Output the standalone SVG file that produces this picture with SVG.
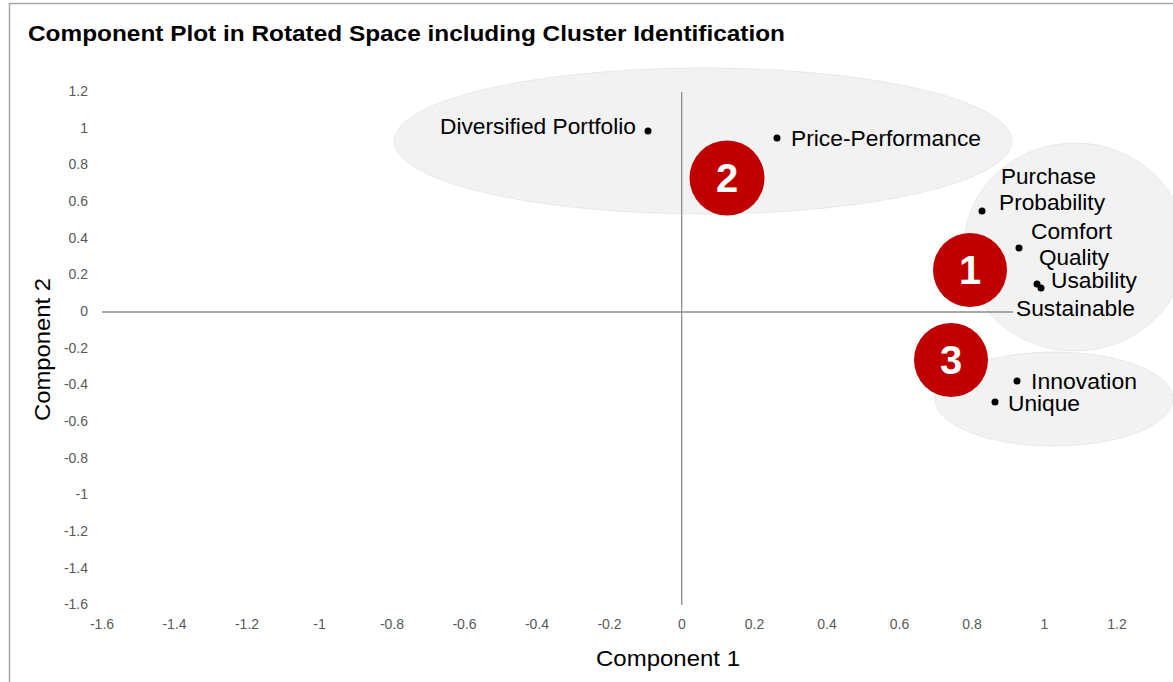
<svg xmlns="http://www.w3.org/2000/svg" width="1173" height="682" viewBox="0 0 1173 682">
<style>
.frame{fill:#ffffff;stroke:#a6a6a6;stroke-width:1.5}
.title{font-family:"Liberation Sans",Arial,sans-serif;font-weight:bold;font-size:22.5px;fill:#000}
.tick{font-family:"Liberation Sans",Arial,sans-serif;font-size:14px;fill:#595959}
.axt{font-family:"Liberation Sans",Arial,sans-serif;font-size:22.5px;fill:#000}
.lbl{font-family:"Liberation Sans",Arial,sans-serif;font-size:22.5px;fill:#000}
.axis{stroke:#8c8c8c;stroke-width:1.3;fill:none}
.cl{fill:#f2f2f2;stroke:#e4e4e4;stroke-width:0.8}
.badge{fill:#c00000}
.num{font-family:"Liberation Sans",Arial,sans-serif;font-weight:bold;font-size:40px;fill:#ffffff;text-anchor:middle}
.dot{fill:#000}
</style>
<rect x="0" y="0" width="1173" height="682" fill="#ffffff"/>
<rect class="frame" x="9.5" y="3.5" width="1200" height="700"/>
<text class="title" x="28" y="41" textLength="757" lengthAdjust="spacingAndGlyphs">Component Plot in Rotated Space including Cluster Identification</text>

<g id="clusters">
<ellipse id="cluster-2-area" class="cl" cx="703" cy="141" rx="309" ry="73"/>
<ellipse id="cluster-1-area" class="cl" cx="1075" cy="247" rx="111" ry="104"/>
<ellipse id="cluster-3-area" class="cl" cx="1054" cy="399" rx="119" ry="47"/>
</g>

<g id="axes">
<line class="axis" x1="102" y1="312" x2="1013" y2="312"/>
<line class="axis" x1="681.7" y1="92" x2="681.7" y2="605"/>
</g>

<g id="y-ticks" class="tick" text-anchor="end">
<text x="88" y="96">1.2</text>
<text x="88" y="133">1</text>
<text x="88" y="169">0.8</text>
<text x="88" y="206">0.6</text>
<text x="88" y="243">0.4</text>
<text x="88" y="279">0.2</text>
<text x="88" y="316">0</text>
<text x="88" y="353">-0.2</text>
<text x="88" y="389">-0.4</text>
<text x="88" y="426">-0.6</text>
<text x="88" y="463">-0.8</text>
<text x="88" y="499">-1</text>
<text x="88" y="536">-1.2</text>
<text x="88" y="573">-1.4</text>
<text x="88" y="609">-1.6</text>
</g>

<g id="x-ticks" class="tick" text-anchor="middle">
<text x="102" y="629">-1.6</text>
<text x="174.5" y="629">-1.4</text>
<text x="247" y="629">-1.2</text>
<text x="319.5" y="629">-1</text>
<text x="392" y="629">-0.8</text>
<text x="464.5" y="629">-0.6</text>
<text x="537" y="629">-0.4</text>
<text x="609.5" y="629">-0.2</text>
<text x="682" y="629">0</text>
<text x="754.5" y="629">0.2</text>
<text x="827" y="629">0.4</text>
<text x="899.5" y="629">0.6</text>
<text x="972" y="629">0.8</text>
<text x="1044.5" y="629">1</text>
<text x="1117" y="629">1.2</text>
</g>

<text class="axt" x="596" y="666" textLength="144" lengthAdjust="spacingAndGlyphs">Component 1</text>
<text class="axt" transform="translate(50 421) rotate(-90)" x="0" y="0" textLength="143" lengthAdjust="spacingAndGlyphs">Component 2</text>

<g id="points">
<g id="diversified-portfolio"><circle class="dot" cx="648" cy="131" r="3.5"/><text class="lbl" x="440" y="134" textLength="196" lengthAdjust="spacingAndGlyphs">Diversified Portfolio</text></g>
<g id="price-performance"><circle class="dot" cx="777" cy="138" r="3.5"/><text class="lbl" x="791" y="146" textLength="190" lengthAdjust="spacingAndGlyphs">Price-Performance</text></g>
<g id="purchase-probability"><circle class="dot" cx="982" cy="211" r="3.5"/><text class="lbl" x="1001" y="184" textLength="95" lengthAdjust="spacingAndGlyphs">Purchase</text><text class="lbl" x="999" y="210" textLength="106" lengthAdjust="spacingAndGlyphs">Probability</text></g>
<g id="comfort"><circle class="dot" cx="1019" cy="248" r="3.5"/><text class="lbl" x="1031" y="239" textLength="81" lengthAdjust="spacingAndGlyphs">Comfort</text></g>
<g id="quality"><text class="lbl" x="1039" y="265" textLength="70" lengthAdjust="spacingAndGlyphs">Quality</text></g>
<g id="usability"><circle class="dot" cx="1037" cy="284" r="3.5"/><text class="lbl" x="1051" y="288" textLength="86" lengthAdjust="spacingAndGlyphs">Usability</text></g>
<g id="sustainable"><circle class="dot" cx="1041" cy="288" r="3.5"/><text class="lbl" x="1016" y="316" textLength="119" lengthAdjust="spacingAndGlyphs">Sustainable</text></g>
<g id="innovation"><circle class="dot" cx="1017" cy="381" r="3.5"/><text class="lbl" x="1031" y="389" textLength="106" lengthAdjust="spacingAndGlyphs">Innovation</text></g>
<g id="unique"><circle class="dot" cx="995" cy="402" r="3.5"/><text class="lbl" x="1008" y="411" textLength="72" lengthAdjust="spacingAndGlyphs">Unique</text></g>
</g>

<g id="badge-2"><circle class="badge" cx="727" cy="178" r="37.5"/><text class="num" x="727" y="192">2</text></g>
<g id="badge-1"><circle class="badge" cx="970" cy="270" r="37"/><text class="num" x="970" y="284">1</text></g>
<g id="badge-3"><circle class="badge" cx="951" cy="360" r="37"/><text class="num" x="951" y="374">3</text></g>
</svg>
